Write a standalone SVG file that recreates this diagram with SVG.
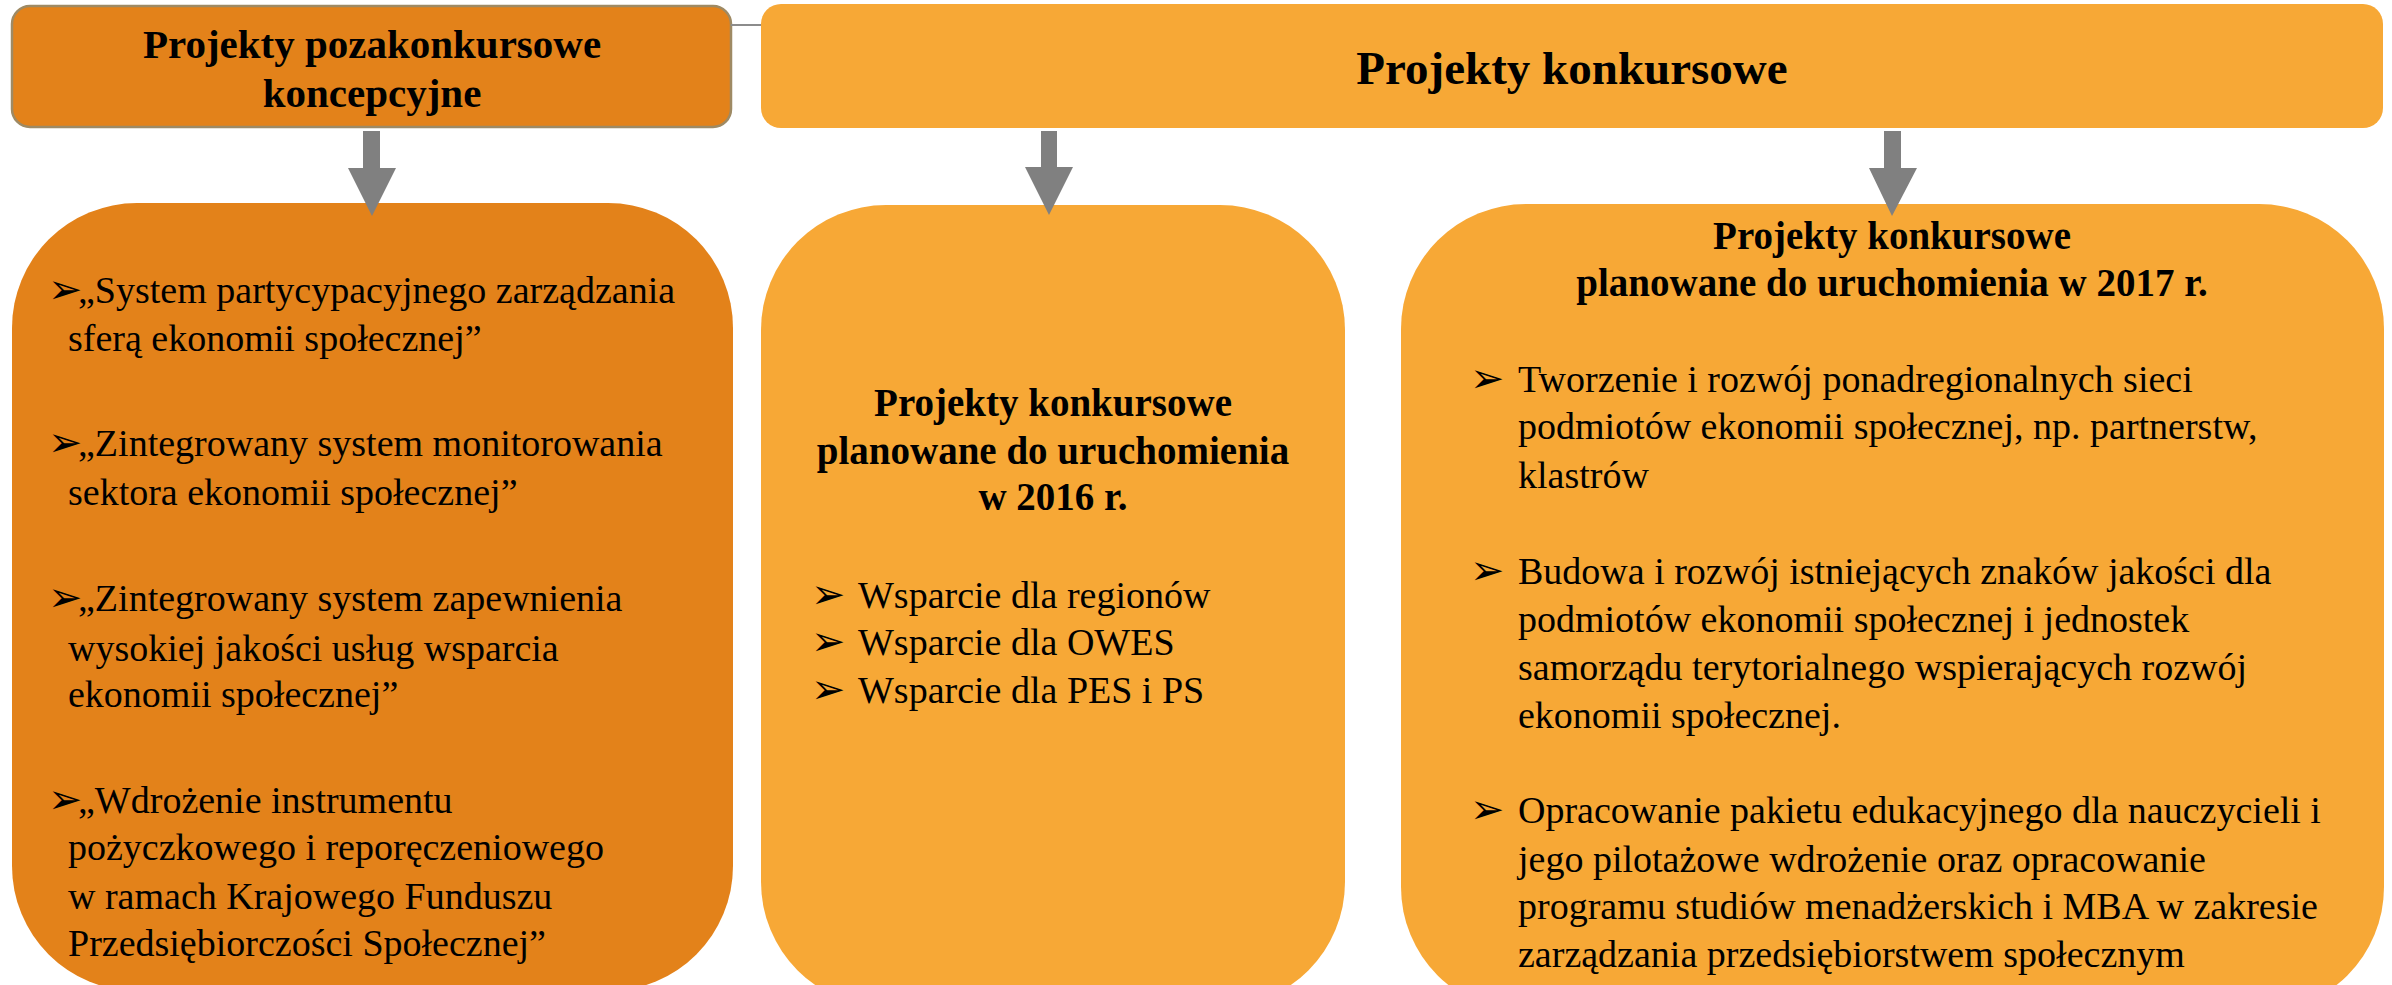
<svg xmlns="http://www.w3.org/2000/svg" width="2392" height="985" viewBox="0 0 2392 985">
<style>
.dark{fill:#E3821A}
.light{fill:#F7A836}
.hdr{font-family:"Liberation Serif","DejaVu Serif",serif;font-weight:bold;fill:#000;text-anchor:middle}
.txt{font-family:"Liberation Serif","DejaVu Serif",serif;font-size:38px;fill:#000}
.bul{font-family:"DejaVu Sans",sans-serif;font-size:41px;fill:#000}
.arrow{fill:#808080}
</style>
<rect width="2392" height="985" fill="#fff"/>
<g id="node-pozakonkursowe">
<rect class="dark" x="12" y="6" width="719" height="121" rx="18" stroke="#9E8A64" stroke-width="2.5"/>
<text class="hdr" font-size="41" x="372" y="58">Projekty pozakonkursowe</text>
<text class="hdr" font-size="41" x="372" y="107">koncepcyjne</text>
</g>
<g id="node-konkursowe">
<rect class="light" x="761" y="4" width="1622" height="124" rx="20"/>
<text class="hdr" font-size="47" x="1572" y="84">Projekty konkursowe</text>
</g>
<g id="node-lista-pozakonkursowe">
<rect class="dark" x="12" y="203" width="721" height="788" rx="125"/>
<text class="bul" x="48" y="303">➢</text>
<text class="txt" x="78" y="303">„System partycypacyjnego zarządzania</text>
<text class="txt" x="68" y="351">sferą ekonomii społecznej”</text>
<text class="bul" x="48" y="456">➢</text>
<text class="txt" x="78" y="456">„Zintegrowany system monitorowania</text>
<text class="txt" x="68" y="505">sektora ekonomii społecznej”</text>
<text class="bul" x="48" y="611">➢</text>
<text class="txt" x="78" y="611">„Zintegrowany system zapewnienia</text>
<text class="txt" x="68" y="661">wysokiej jakości usług wsparcia</text>
<text class="txt" x="68" y="707">ekonomii społecznej”</text>
<text class="bul" x="48" y="813">➢</text>
<text class="txt" x="78" y="813">„Wdrożenie instrumentu</text>
<text class="txt" x="68" y="860">pożyczkowego i reporęczeniowego</text>
<text class="txt" x="68" y="909">w ramach Krajowego Funduszu</text>
<text class="txt" x="68" y="956">Przedsiębiorczości Społecznej”</text>
</g>
<g id="node-2016">
<rect class="light" x="761" y="205" width="584" height="802" rx="125"/>
<text class="hdr" font-size="39" x="1053" y="416">Projekty konkursowe</text>
<text class="hdr" font-size="39" x="1053" y="464">planowane do uruchomienia</text>
<text class="hdr" font-size="39" x="1053" y="510">w 2016 r.</text>
<text class="bul" x="811" y="608">➢</text>
<text class="txt" x="858" y="608">Wsparcie dla regionów</text>
<text class="bul" x="811" y="655">➢</text>
<text class="txt" x="858" y="655">Wsparcie dla OWES</text>
<text class="bul" x="811" y="703">➢</text>
<text class="txt" x="858" y="703">Wsparcie dla PES i PS</text>
</g>
<g id="node-2017">
<rect class="light" x="1401" y="204" width="983" height="808" rx="125"/>
<text class="hdr" font-size="39" x="1892" y="249">Projekty konkursowe</text>
<text class="hdr" font-size="39" x="1892" y="296">planowane do uruchomienia w 2017 r.</text>
<text class="bul" x="1470" y="392">➢</text>
<text class="txt" x="1518" y="392">Tworzenie i rozwój ponadregionalnych sieci</text>
<text class="txt" x="1518" y="439">podmiotów ekonomii społecznej, np. partnerstw,</text>
<text class="txt" x="1518" y="488">klastrów</text>
<text class="bul" x="1470" y="584">➢</text>
<text class="txt" x="1518" y="584">Budowa i rozwój istniejących znaków jakości dla</text>
<text class="txt" x="1518" y="632">podmiotów ekonomii społecznej i jednostek</text>
<text class="txt" x="1518" y="680">samorządu terytorialnego wspierających rozwój</text>
<text class="txt" x="1518" y="728">ekonomii społecznej.</text>
<text class="bul" x="1470" y="823">➢</text>
<text class="txt" x="1518" y="823">Opracowanie pakietu edukacyjnego dla nauczycieli i</text>
<text class="txt" x="1518" y="872">jego pilotażowe wdrożenie oraz opracowanie</text>
<text class="txt" x="1518" y="919">programu studiów menadżerskich i MBA w zakresie</text>
<text class="txt" x="1518" y="967">zarządzania przedsiębiorstwem społecznym</text>
</g>
<g id="connectors">
<line x1="731" y1="25" x2="761" y2="25" stroke="#8C8C8C" stroke-width="2"/>
<path class="arrow" d="M363,131 H380 V168 H396 L372,216 L348,168 H363 Z"/>
<path class="arrow" d="M1041,131 H1057 V167 H1073 L1049,215 L1025,167 H1041 Z"/>
<path class="arrow" d="M1884,131 H1901 V168 H1917 L1892,216 L1869,168 H1884 Z"/>
</g>
</svg>
